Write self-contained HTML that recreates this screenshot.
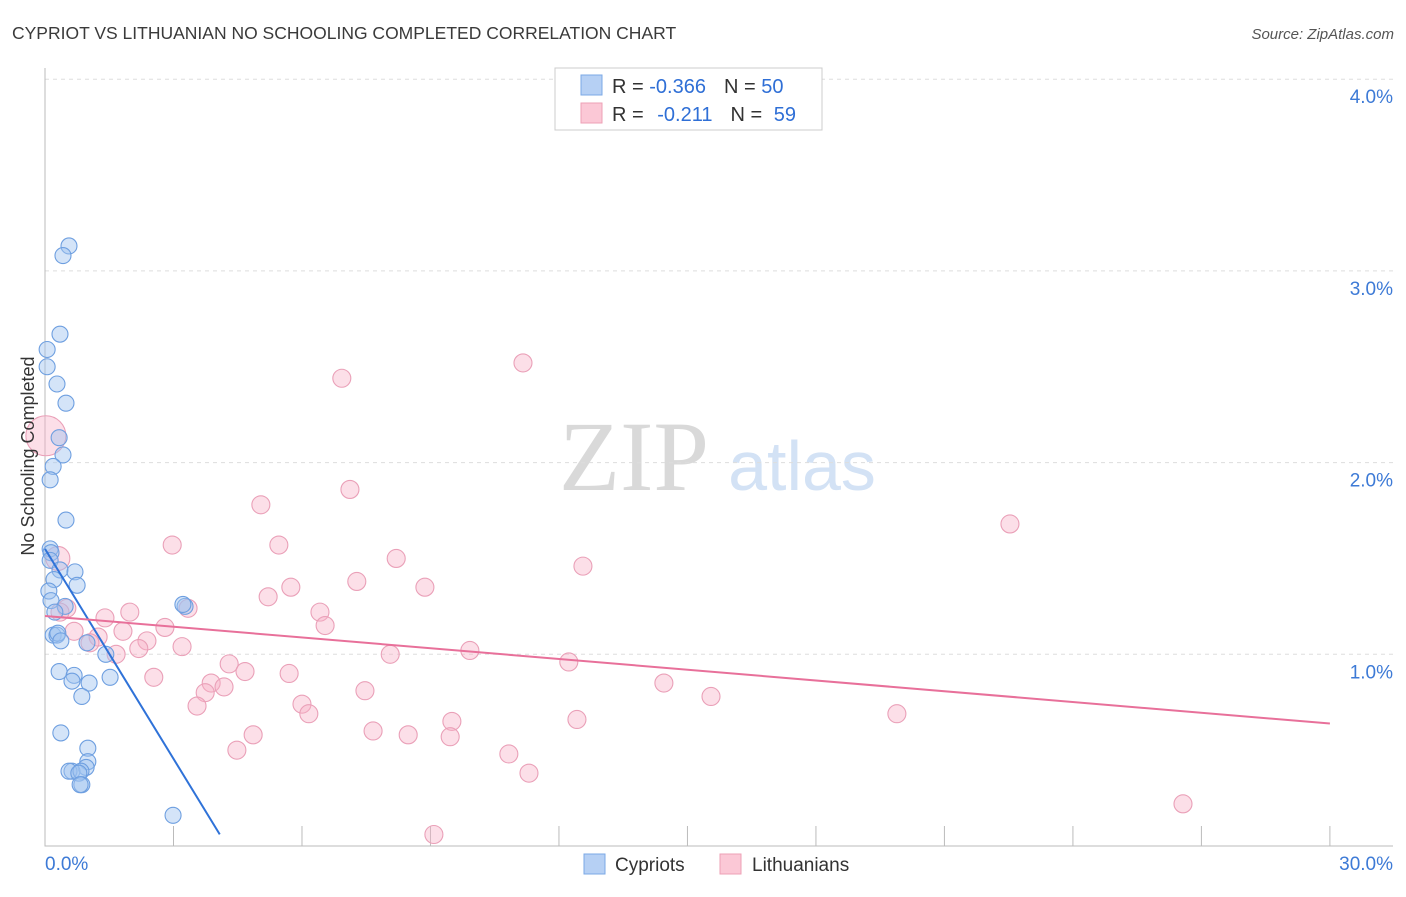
<!DOCTYPE html>
<html><head><meta charset="utf-8"><style>
body{margin:0;background:#fff;font-family:"Liberation Sans",sans-serif;}
svg text{font-family:"Liberation Sans",sans-serif;}
</style></head><body>
<svg id="c" width="1406" height="892" xmlns="http://www.w3.org/2000/svg">
<text x="12" y="39" font-size="17.5" fill="#3a3a3a">CYPRIOT VS LITHUANIAN NO SCHOOLING COMPLETED CORRELATION CHART</text>
<text x="1394" y="39" font-size="15" fill="#555" font-style="italic" text-anchor="end">Source: ZipAtlas.com</text>
<text x="634" y="490" style="font-family:'Liberation Serif',serif;font-size:100px" fill="#d9d9d9" text-anchor="middle">ZIP</text>
<text x="802" y="490" font-size="70" fill="#d3e2f5" text-anchor="middle">atlas</text>
<g id="grid"></g><g id="axes"></g><g id="pts"></g><g id="lines"></g>
<text transform="translate(34,456) rotate(-90)" font-size="18" fill="#333" text-anchor="middle">No Schooling Completed</text>
<g>
<rect x="555" y="68" width="267" height="62" fill="#fff" stroke="#ccc"/>
<rect x="581" y="75" width="21" height="20" fill="#b6d0f4" stroke="#7ba8e6"/>
<rect x="581" y="103" width="21" height="20" fill="#fbc8d6" stroke="#eea0b6"/>
<text x="612" y="93" font-size="20" fill="#333">R = <tspan fill="#2f6fd6">-0.366</tspan><tspan dx="18">N = </tspan><tspan fill="#2f6fd6">50</tspan></text>
<text x="612" y="121" font-size="20" fill="#333">R = <tspan dx="8" fill="#2f6fd6">-0.211</tspan><tspan dx="18">N = </tspan><tspan dx="6" fill="#2f6fd6">59</tspan></text>
</g>
<g>
<rect x="584" y="854" width="21" height="20" fill="#b6d0f4" stroke="#7ba8e6"/>
<text x="615" y="871" font-size="19" fill="#333">Cypriots</text>
<rect x="720" y="854" width="21" height="20" fill="#fbc8d6" stroke="#eea0b6"/>
<text x="752" y="871" font-size="19" fill="#333">Lithuanians</text>
</g>
</svg>
<script>
const yTicks=[1,2,3,4];
const xTickLabels=["0.0%","30.0%"];
const blueX=[0.56,0.42,0.35,0.05,0.05,0.28,0.49,0.33,0.42,0.19,0.12,0.49,0.12,0.14,0.12,0.35,0.70,0.21,0.75,0.09,0.14,0.47,0.23,3.27,3.22,0.19,0.28,0.30,0.37,0.98,1.42,0.33,0.68,0.63,1.03,1.52,0.86,0.37,1.00,1.00,0.96,0.63,0.56,0.84,0.79,0.86,0.82,2.99];
const blueY=[3.13,3.08,2.67,2.59,2.50,2.41,2.31,2.13,2.04,1.98,1.91,1.70,1.55,1.53,1.49,1.44,1.43,1.39,1.36,1.33,1.28,1.25,1.22,1.25,1.26,1.10,1.10,1.11,1.07,1.06,1.00,0.91,0.89,0.86,0.85,0.88,0.78,0.59,0.51,0.44,0.41,0.39,0.39,0.39,0.38,0.32,0.32,0.16];
const pinkX=[11.16,6.93,7.12,5.04,22.53,2.97,5.46,8.20,12.56,7.28,5.74,8.87,5.21,1.98,6.42,3.34,0.51,1.40,6.54,2.80,1.82,0.68,1.24,2.38,3.20,2.19,8.06,9.92,1.66,12.23,4.30,4.67,5.70,2.54,3.88,4.18,3.74,7.47,14.45,15.55,6.00,6.16,3.55,19.89,9.50,12.42,7.66,8.48,4.86,9.46,4.48,10.83,11.30,26.57,9.08,0.02,0.30,0.35,1.05];
const pinkY=[2.52,2.44,1.86,1.78,1.68,1.57,1.57,1.50,1.46,1.38,1.35,1.35,1.30,1.22,1.22,1.24,1.24,1.19,1.15,1.14,1.12,1.12,1.09,1.07,1.04,1.03,1.00,1.02,1.00,0.96,0.95,0.91,0.90,0.88,0.85,0.83,0.80,0.81,0.85,0.78,0.74,0.69,0.73,0.69,0.65,0.66,0.60,0.58,0.58,0.57,0.50,0.48,0.38,0.22,0.06,2.14,1.50,1.22,1.06];
const pinkR=[9,9,9,9,9,9,9,9,9,9,9,9,9,9,9,9,9,9,9,9,9,9,9,9,9,9,9,9,9,9,9,9,9,9,9,9,9,9,9,9,9,9,9,9,9,9,9,9,9,9,9,9,9,9,9,20,12,9,9];
const blueLine=[1.55,-0.365];
const pinkLine=[1.20,-0.0187];
const xs=v=>45+v*42.83, ys=v=>846-v*191.7;
const NS="http://www.w3.org/2000/svg";
function mk(p,t,a){const e=document.createElementNS(NS,t);for(const k in a)e.setAttribute(k,a[k]);p.appendChild(e);return e;}
const grid=document.getElementById('grid'),axes=document.getElementById('axes'),pts=document.getElementById('pts'),lines=document.getElementById('lines');
yTicks.forEach(v=>{
 const l=mk(grid,'line',{x1:45,x2:1393,y1:ys(v),y2:ys(v),stroke:'#ddd','stroke-dasharray':'4,4'});
 
 
 const t=mk(axes,'text',{x:1393,y:ys(v)+24,'font-size':19,fill:'#3d7ad6','text-anchor':'end'});t.textContent=v.toFixed(1)+'%';
 
 
});
const ax=mk(axes,'path',{d:'M45,68V846H1393',stroke:'#bbb',fill:'none'});


for(let i=1;i<=10;i++){const tk=mk(axes,'line',{x1:xs(i*3),x2:xs(i*3),y1:826,y2:846,stroke:'#bbb'});
 
 }
[[0,45,'start'],[30,1393,'end']].forEach((d,i)=>{const t=mk(axes,'text',{x:d[1],y:870,'font-size':19,fill:'#3d7ad6','text-anchor':d[2]});t.textContent=xTickLabels[i];
 
 });
pinkX.forEach((x,i)=>{const c=mk(pts,'circle',{cx:xs(x),cy:ys(pinkY[i]),r:pinkR[i],fill:'rgba(247,176,198,0.4)',stroke:'#eaa0b8','stroke-width':1.1});
 
 });
blueX.forEach((x,i)=>{const c=mk(pts,'circle',{cx:xs(x),cy:ys(blueY[i]),r:8,fill:'rgba(160,195,240,0.45)',stroke:'#6e9fe0','stroke-width':1.1});
 
 });
const bx1=4.08;
const bl=mk(lines,'line',{x1:xs(0),y1:ys(blueLine[0]),x2:xs(bx1),y2:ys(blueLine[0]+blueLine[1]*bx1),stroke:'#2f72d8','stroke-width':2});


const pl=mk(lines,'line',{x1:xs(0),y1:ys(pinkLine[0]),x2:xs(30),y2:ys(pinkLine[0]+pinkLine[1]*30),stroke:'#e8709a','stroke-width':2});


</script>
</body></html>
